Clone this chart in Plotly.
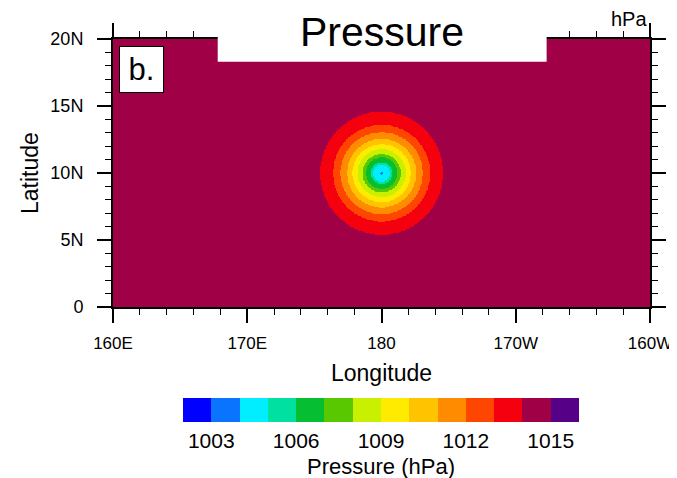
import numpy as np
import plotly.graph_objects as go

# ---------------- data ----------------
lon_ticks = [160, 170, 180, 190, 200]
lon_labels = ["160E", "170E", "180", "170W", "160W"]
lat_ticks = [0, 5, 10, 15, 20]
lat_labels = ["0", "5N", "10N", "15N", "20N"]

# contour band edges (14 bands) and their fill colours
band_edges = [1002, 1003, 1004, 1005, 1006, 1007, 1008, 1009, 1010,
              1011, 1012, 1013, 1014, 1015, 1016]
band_colors = ["#0000FF", "#0A74FF", "#00EEFF", "#00E0A0", "#05BE32",
               "#5AC800", "#C8F000", "#FFEB00", "#FFC300", "#FF8C00",
               "#FF4600", "#F5000F", "#A00046", "#560088"]
cbar_tickvals = [1003, 1006, 1009, 1012, 1015]

# low-pressure vortex: centre and outer radius (deg) of each contour band
center_lon = 180.0
center_lat = 10.0
ring_radius_deg = [0.10, 0.62, 0.80, 1.17, 1.43, 1.79, 2.16, 2.56, 3.06, 3.61, 4.58]
ring_pressure = [1003.5, 1004.5, 1005.5, 1006.5, 1007.5, 1008.5, 1009.5,
                 1010.5, 1011.5, 1012.5, 1013.5]
ambient_pressure = 1014.5

# white title box cut into the top of the map
title_box_lon = [167.8, 192.3]
title_box_lat_bottom = 18.3

# ---------------- build the field ----------------
lon = np.arange(160.0, 200.0001, 0.05)
lat = np.arange(0.0, 20.0001, 0.05)
LON, LAT = np.meshgrid(lon, lat)
dist = np.hypot(LON - center_lon, LAT - center_lat)
z = np.full(dist.shape, ambient_pressure)
for r, v in sorted(zip(ring_radius_deg, ring_pressure), reverse=True):
    z[dist < r] = v

zmin, zmax = band_edges[0], band_edges[-1]
n = len(band_colors)
colorscale = []
for i, c in enumerate(band_colors):
    colorscale.append([i / n, c])
    colorscale.append([(i + 1) / n, c])

FONT = "Liberation Sans, Arial, Helvetica, sans-serif"

# page geometry (pixels); the html body adds an 8px offset
OFF = 8
W, H = 677 - OFF, 478 - OFF
PL, PR, PT, PB = 113, 650, 39, 307          # plot area in page pixels
L, T = PL - OFF, PT - OFF
R, B = W - (PR - OFF), H - (PB - OFF)
pw, ph = PR - PL, PB - PT


def px_x(v):
    return (v - PL) / pw


def px_y(v):
    return (PB - v) / ph


fig = go.Figure()
fig.add_trace(go.Heatmap(
    x=lon, y=lat, z=z, zmin=zmin, zmax=zmax,
    colorscale=colorscale, zsmooth=False, hoverinfo="skip",
    colorbar=dict(
        orientation="h",
        lenmode="pixels", len=396,
        thicknessmode="pixels", thickness=24,
        x=px_x(381), xanchor="center",
        y=px_y(398), yanchor="top", yref="paper",
        outlinewidth=0,
        tickmode="array", tickvals=cbar_tickvals,
        ticktext=[str(v) for v in cbar_tickvals],
        ticks="", ticklabelposition="outside",
        tickfont=dict(family=FONT, size=21, color="black"),
        title=dict(text="Pressure (hPa)", side="bottom",
                   font=dict(family=FONT, size=22, color="black")),
        xpad=0, ypad=0,
    ),
))

axis_common = dict(
    showgrid=False, zeroline=False,
    showline=True, linewidth=2, linecolor="black",
    mirror="ticks", ticks="outside", ticklen=14, tickwidth=2,
    tickcolor="black", tickmode="array",
)

fig.update_xaxes(
    range=[160, 200], tickvals=lon_ticks, ticktext=lon_labels,
    tickfont=dict(family=FONT, size=17, color="black"),
    ticklabelstandoff=6,
    minor=dict(tickmode="linear", tick0=160, dtick=2, ticks="outside",
               ticklen=6, tickwidth=1, tickcolor="black"),
    **axis_common,
)
fig.update_yaxes(
    range=[0, 20], tickvals=lat_ticks, ticktext=lat_labels,
    tickfont=dict(family=FONT, size=18, color="black"),
    ticklabelstandoff=10,
    minor=dict(tickmode="linear", tick0=0, dtick=1, ticks="outside",
               ticklen=6, tickwidth=1, tickcolor="black"),
    **axis_common,
)

# white title box (covers map, top frame and ticks)
fig.add_shape(
    type="rect", xref="x domain", yref="y domain", layer="above",
    x0=(title_box_lon[0] - 160) / 40, x1=(title_box_lon[1] - 160) / 40,
    y0=title_box_lat_bottom / 20, y1=1.2,
    fillcolor="white", line=dict(width=0),
)

fig.add_annotation(text="Pressure", xref="paper", yref="paper",
                   x=px_x(382), y=px_y(32), xanchor="center", yanchor="middle",
                   showarrow=False, font=dict(family=FONT, size=41, color="black"))
fig.add_annotation(text="hPa", xref="paper", yref="paper",
                   x=px_x(649), y=px_y(19), xanchor="right", yanchor="middle",
                   showarrow=False, font=dict(family=FONT, size=20, color="black"))
fig.add_annotation(text="Longitude", xref="paper", yref="paper",
                   x=px_x(381), y=px_y(373), xanchor="center", yanchor="middle",
                   showarrow=False, font=dict(family=FONT, size=23, color="black"))
fig.add_annotation(text="Latitude", xref="paper", yref="paper",
                   x=px_x(30), y=px_y(173), xanchor="center", yanchor="middle",
                   textangle=-90,
                   showarrow=False, font=dict(family=FONT, size=23, color="black"))
fig.add_annotation(text="b.", xref="paper", yref="paper",
                   x=px_x(119), y=px_y(46), xanchor="left", yanchor="top",
                   width=41, height=43, align="center", valign="middle",
                   bgcolor="white", bordercolor="black", borderwidth=1, borderpad=1,
                   showarrow=False, font=dict(family=FONT, size=31, color="black"))

fig.update_layout(
    width=W, height=H,
    margin=dict(l=L, r=R, t=T, b=B, autoexpand=False),
    paper_bgcolor="white", plot_bgcolor="white",
    showlegend=False,
)

fig.write_html("out.html")
